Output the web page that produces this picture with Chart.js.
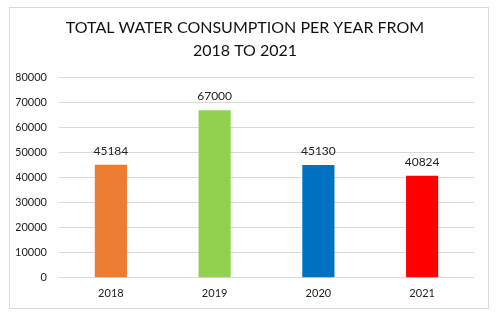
<!DOCTYPE html>
<html>
<head>
<meta charset="utf-8">
<script src="https://cdn.jsdelivr.net/npm/chart.js@4/dist/chart.umd.min.js"></script>
<style>
  html, body { margin: 0; padding: 0; background: #fff; }
  #box {
    position: absolute; left: 9px; top: 7px;
    width: 478px; height: 300px;
    border: 1px solid #d9d9d9;
  }
</style>
</head>
<body>
<div id="box"><canvas id="waterChart" width="478" height="300"></canvas></div>
<script>
var years = ['2018', '2019', '2020', '2021'];
var consumption = [45184, 67000, 45130, 40824];
var barColors = ['#ed7d31', '#92d050', '#0070c0', '#ff0000'];
var yTicks = [0, 10000, 20000, 30000, 40000, 50000, 60000, 70000, 80000];

// writes each bar's value just above it
var valueLabels = {
    id: 'valueLabels',
    afterDatasetsDraw: function (chart) {
        var c = chart.ctx;
        var meta = chart.getDatasetMeta(0);
        c.save();
        c.font = '12px Lato';
        c.fillStyle = '#222';
        c.textAlign = 'center';
        c.textBaseline = 'middle';
        meta.data.forEach(function (bar, i) {
            c.fillText(String(consumption[i]), bar.x, bar.y - 14);
        });
        c.restore();
    }
};

var ctx = document.getElementById('waterChart').getContext('2d');
var chart = new Chart(ctx, {
    type: 'bar',
    data: {
        labels: years,
        datasets: [{
            data: consumption,
            backgroundColor: barColors,
            barPercentage: 0.31,
            categoryPercentage: 1
        }]
    },
    options: {
        responsive: false,
        animation: false,
        layout: { padding: { left: 6, right: 14, top: 0, bottom: -1 } },
        plugins: {
            legend: { display: false },
            tooltip: { enabled: false },
            title: {
                display: true,
                text: ['TOTAL WATER CONSUMPTION PER YEAR FROM', '2018 TO 2021'],
                color: '#111',
                font: { family: 'Lato', size: 16, weight: 'normal', lineHeight: 1.4 },
                padding: { top: 9, bottom: 16 }
            }
        },
        scales: {
            x: {
                grid: { display: false, drawTicks: false },
                border: { display: false },
                ticks: { color: '#222', font: { family: 'Lato', size: 11 }, padding: 9 }
            },
            y: {
                min: 0,
                max: 80000,
                afterBuildTicks: function (axis) {
                    axis.ticks = yTicks.map(function (v) { return { value: v }; });
                },
                afterFit: function (axis) { axis.width = 43; },
                grid: { color: '#d9d9d9', drawTicks: false },
                border: { display: false },
                ticks: {
                    color: '#222',
                    font: { family: 'Lato', size: 11 },
                    padding: 12,
                    callback: function (v) { return String(v); }
                }
            }
        }
    },
    plugins: [valueLabels]
});
</script>
</body>
</html>
